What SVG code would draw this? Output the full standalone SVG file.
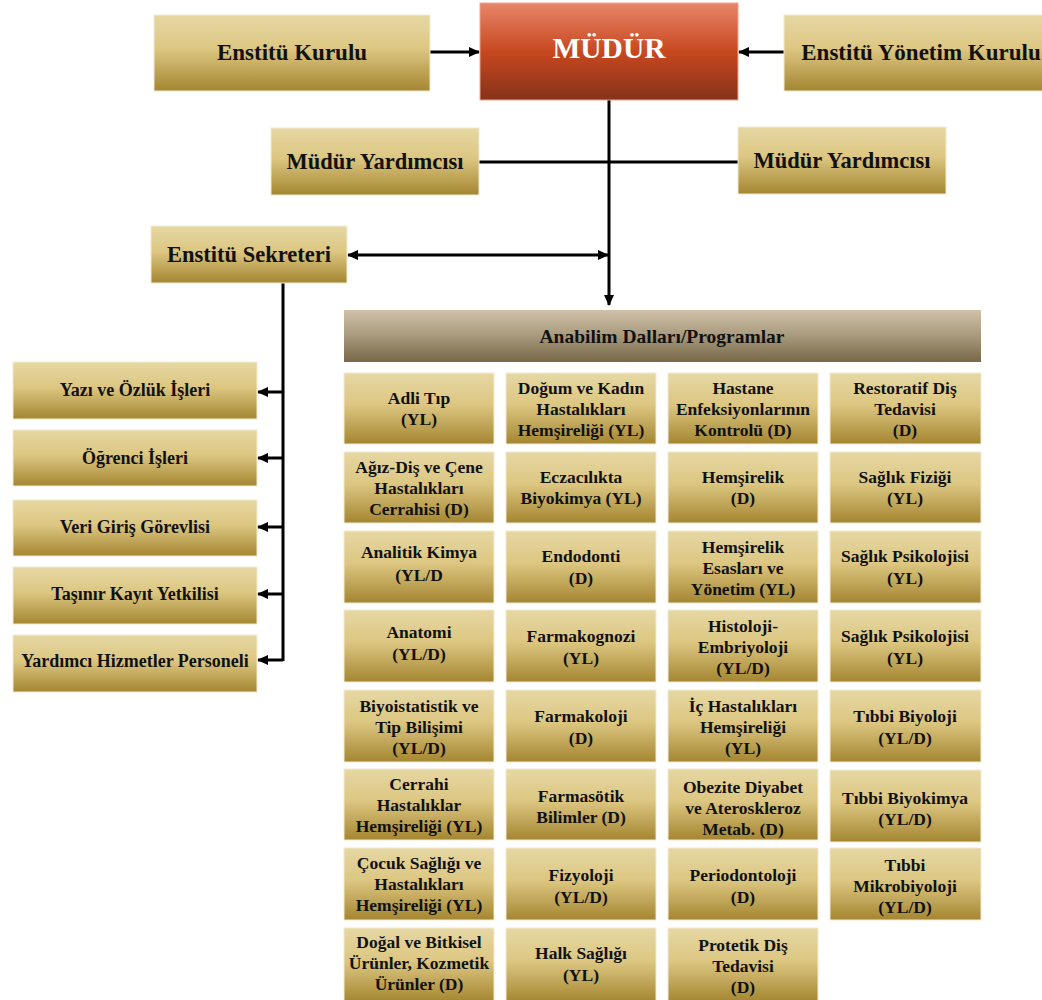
<svg xmlns="http://www.w3.org/2000/svg" width="1042" height="1000" viewBox="0 0 1042 1000">
<defs>
<linearGradient id="gold" x1="0" y1="0" x2="0" y2="1">
<stop offset="0" stop-color="#e6d8a4"/>
<stop offset="0.45" stop-color="#dcc681"/>
<stop offset="1" stop-color="#a48631"/>
</linearGradient>
<linearGradient id="red" x1="0" y1="0" x2="0" y2="1">
<stop offset="0" stop-color="#e8866a"/>
<stop offset="0.5" stop-color="#c7481f"/>
<stop offset="1" stop-color="#86321a"/>
</linearGradient>
<linearGradient id="hdr" x1="0" y1="0" x2="0" y2="1">
<stop offset="0" stop-color="#cfc2a9"/>
<stop offset="0.5" stop-color="#a8997c"/>
<stop offset="1" stop-color="#786748"/>
</linearGradient>
<marker id="ah" markerUnits="userSpaceOnUse" markerWidth="11" markerHeight="10" refX="10" refY="5" orient="auto-start-reverse">
<path d="M0,0 L11,5 L0,10 z" fill="#000"/>
</marker>
</defs>
<style>
.g{fill:url(#gold);stroke:#f3ead0;stroke-width:1}
.r{fill:url(#red);stroke:#e9a58f;stroke-width:1}
.h{fill:url(#hdr)}
text{font-family:"Liberation Serif","Times New Roman",serif;font-weight:bold;fill:#111;text-anchor:middle}
.t1{font-size:23px}
.t2{font-size:22.5px}
.t3{font-size:18px}
.hd{font-size:19.5px}
.c{font-size:17.5px}
.w{fill:#fff;font-size:29.5px}
.ln{stroke:#000;stroke-width:3;fill:none}
</style>

<g id="connectors">
<line class="ln" x1="430" y1="52" x2="479" y2="52" marker-end="url(#ah)"/>
<line class="ln" x1="784" y1="52" x2="739" y2="52" marker-end="url(#ah)"/>
<line class="ln" x1="479" y1="162" x2="738" y2="162"/>
<line class="ln" x1="609" y1="100" x2="609" y2="305" marker-end="url(#ah)"/>
<line class="ln" x1="348" y1="255" x2="608" y2="255" marker-start="url(#ah)" marker-end="url(#ah)"/>
<line class="ln" x1="283" y1="283" x2="283" y2="661"/>
<line class="ln" x1="283" y1="392" x2="258" y2="392" marker-end="url(#ah)"/>
<line class="ln" x1="283" y1="458" x2="258" y2="458" marker-end="url(#ah)"/>
<line class="ln" x1="283" y1="527" x2="258" y2="527" marker-end="url(#ah)"/>
<line class="ln" x1="283" y1="594" x2="258" y2="594" marker-end="url(#ah)"/>
<line class="ln" x1="283" y1="660" x2="258" y2="660" marker-end="url(#ah)"/>
</g>

<g id="enstitu-kurulu"><rect class="g" x="154" y="15" width="276" height="76"/><text class="t1" x="292" y="60">Enstitü Kurulu</text></g>
<g id="mudur"><rect class="r" x="480" y="3" width="258" height="97"/><text class="w" x="609" y="58">MÜDÜR</text></g>
<g id="enstitu-yonetim-kurulu"><rect class="g" x="784" y="15" width="262" height="76"/><text class="t1" x="921" y="60">Enstitü Yönetim Kurulu</text></g>
<g id="mudur-yrd-1"><rect class="g" x="271" y="128" width="208" height="67"/><text class="t2" x="375" y="169">Müdür Yardımcısı</text></g>
<g id="mudur-yrd-2"><rect class="g" x="738" y="127" width="208" height="67"/><text class="t2" x="842" y="168">Müdür Yardımcısı</text></g>
<g id="enstitu-sekreteri"><rect class="g" x="151" y="226" width="196" height="57"/><text class="t2" x="249" y="262">Enstitü Sekreteri</text></g>

<g id="yazi-ozluk"><rect class="g" x="13" y="362" width="244" height="57"/><text class="t3" x="135" y="396">Yazı ve Özlük İşleri</text></g>
<g id="ogrenci"><rect class="g" x="13" y="430" width="244" height="56"/><text class="t3" x="135" y="464">Öğrenci İşleri</text></g>
<g id="veri-giris"><rect class="g" x="13" y="500" width="244" height="56"/><text class="t3" x="135" y="533">Veri Giriş Görevlisi</text></g>
<g id="tasinir"><rect class="g" x="13" y="567" width="244" height="57"/><text class="t3" x="135" y="600">Taşınır Kayıt Yetkilisi</text></g>
<g id="yardimci"><rect class="g" x="13" y="635" width="244" height="57"/><text class="t3" x="135" y="667">Yardımcı Hizmetler Personeli</text></g>

<g id="anabilim"><rect class="h" x="344" y="310" width="637" height="52"/><text class="hd" x="662" y="343">Anabilim Dalları/Programlar</text></g>

<g id="r1c1"><rect class="g" x="344" y="373" width="150" height="71"/><text class="c" x="419" y="404">Adli Tıp</text><text class="c" x="419" y="425">(YL)</text></g>
<g id="r1c2"><rect class="g" x="506" y="373" width="150" height="71"/><text class="c" x="581" y="394">Doğum ve Kadın</text><text class="c" x="581" y="415">Hastalıkları</text><text class="c" x="581" y="436">Hemşireliği (YL)</text></g>
<g id="r1c3"><rect class="g" x="668" y="373" width="150" height="71"/><text class="c" x="743" y="394">Hastane</text><text class="c" x="743" y="415">Enfeksiyonlarının</text><text class="c" x="743" y="436">Kontrolü (D)</text></g>
<g id="r1c4"><rect class="g" x="830" y="373" width="151" height="71"/><text class="c" x="905" y="394">Restoratif Diş</text><text class="c" x="905" y="415">Tedavisi</text><text class="c" x="905" y="436">(D)</text></g>

<g id="r2c1"><rect class="g" x="344" y="452" width="150" height="71"/><text class="c" x="419" y="473">Ağız-Diş ve Çene</text><text class="c" x="419" y="494">Hastalıkları</text><text class="c" x="419" y="515">Cerrahisi (D)</text></g>
<g id="r2c2"><rect class="g" x="506" y="452" width="150" height="71"/><text class="c" x="581" y="483">Eczacılıkta</text><text class="c" x="581" y="504">Biyokimya (YL)</text></g>
<g id="r2c3"><rect class="g" x="668" y="452" width="150" height="71"/><text class="c" x="743" y="483">Hemşirelik</text><text class="c" x="743" y="504">(D)</text></g>
<g id="r2c4"><rect class="g" x="830" y="452" width="151" height="71"/><text class="c" x="905" y="483">Sağlık Fiziği</text><text class="c" x="905" y="504">(YL)</text></g>

<g id="r3c1"><rect class="g" x="344" y="531" width="150" height="72"/><text class="c" x="419" y="558">Analitik Kimya</text><text class="c" x="419" y="581">(YL/D</text></g>
<g id="r3c2"><rect class="g" x="506" y="531" width="150" height="72"/><text class="c" x="581" y="562">Endodonti</text><text class="c" x="581" y="584">(D)</text></g>
<g id="r3c3"><rect class="g" x="668" y="531" width="150" height="72"/><text class="c" x="743" y="553">Hemşirelik</text><text class="c" x="743" y="574">Esasları ve</text><text class="c" x="743" y="595">Yönetim (YL)</text></g>
<g id="r3c4"><rect class="g" x="830" y="531" width="151" height="72"/><text class="c" x="905" y="562">Sağlık Psikolojisi</text><text class="c" x="905" y="584">(YL)</text></g>

<g id="r4c1"><rect class="g" x="344" y="610" width="150" height="72"/><text class="c" x="419" y="638">Anatomi</text><text class="c" x="419" y="660">(YL/D)</text></g>
<g id="r4c2"><rect class="g" x="506" y="610" width="150" height="72"/><text class="c" x="581" y="642">Farmakognozi</text><text class="c" x="581" y="664">(YL)</text></g>
<g id="r4c3"><rect class="g" x="668" y="610" width="150" height="72"/><text class="c" x="743" y="632">Histoloji-</text><text class="c" x="743" y="653">Embriyoloji</text><text class="c" x="743" y="674">(YL/D)</text></g>
<g id="r4c4"><rect class="g" x="830" y="610" width="151" height="72"/><text class="c" x="905" y="642">Sağlık Psikolojisi</text><text class="c" x="905" y="664">(YL)</text></g>

<g id="r5c1"><rect class="g" x="344" y="690" width="150" height="72"/><text class="c" x="419" y="712">Biyoistatistik ve</text><text class="c" x="419" y="733">Tip Bilişimi</text><text class="c" x="419" y="754">(YL/D)</text></g>
<g id="r5c2"><rect class="g" x="506" y="690" width="150" height="72"/><text class="c" x="581" y="722">Farmakoloji</text><text class="c" x="581" y="744">(D)</text></g>
<g id="r5c3"><rect class="g" x="668" y="690" width="150" height="72"/><text class="c" x="743" y="712">İç Hastalıkları</text><text class="c" x="743" y="733">Hemşireliği</text><text class="c" x="743" y="754">(YL)</text></g>
<g id="r5c4"><rect class="g" x="830" y="690" width="151" height="72"/><text class="c" x="905" y="722">Tıbbi Biyoloji</text><text class="c" x="905" y="744">(YL/D)</text></g>

<g id="r6c1"><rect class="g" x="344" y="769" width="150" height="71"/><text class="c" x="419" y="790">Cerrahi</text><text class="c" x="419" y="811">Hastalıklar</text><text class="c" x="419" y="832">Hemşireliği (YL)</text></g>
<g id="r6c2"><rect class="g" x="506" y="769" width="150" height="71"/><text class="c" x="581" y="802">Farmasötik</text><text class="c" x="581" y="823">Bilimler (D)</text></g>
<g id="r6c3"><rect class="g" x="668" y="769" width="150" height="71"/><text class="c" x="743" y="793">Obezite Diyabet</text><text class="c" x="743" y="814">ve Ateroskleroz</text><text class="c" x="743" y="835">Metab. (D)</text></g>
<g id="r6c4"><rect class="g" x="830" y="770" width="151" height="72"/><text class="c" x="905" y="804">Tıbbi Biyokimya</text><text class="c" x="905" y="825">(YL/D)</text></g>

<g id="r7c1"><rect class="g" x="344" y="848" width="150" height="72"/><text class="c" x="419" y="869">Çocuk Sağlığı ve</text><text class="c" x="419" y="890">Hastalıkları</text><text class="c" x="419" y="911">Hemşireliği (YL)</text></g>
<g id="r7c2"><rect class="g" x="506" y="848" width="150" height="72"/><text class="c" x="581" y="881">Fizyoloji</text><text class="c" x="581" y="903">(YL/D)</text></g>
<g id="r7c3"><rect class="g" x="668" y="848" width="150" height="72"/><text class="c" x="743" y="881">Periodontoloji</text><text class="c" x="743" y="903">(D)</text></g>
<g id="r7c4"><rect class="g" x="830" y="848" width="151" height="72"/><text class="c" x="905" y="871">Tıbbi</text><text class="c" x="905" y="892">Mikrobiyoloji</text><text class="c" x="905" y="913">(YL/D)</text></g>

<g id="r8c1"><rect class="g" x="344" y="928" width="150" height="74"/><text class="c" x="419" y="948">Doğal ve Bitkisel</text><text class="c" x="419" y="969">Ürünler, Kozmetik</text><text class="c" x="419" y="990">Ürünler (D)</text></g>
<g id="r8c2"><rect class="g" x="506" y="928" width="150" height="74"/><text class="c" x="581" y="959">Halk Sağlığı</text><text class="c" x="581" y="981">(YL)</text></g>
<g id="r8c3"><rect class="g" x="668" y="928" width="150" height="74"/><text class="c" x="743" y="951">Protetik Diş</text><text class="c" x="743" y="972">Tedavisi</text><text class="c" x="743" y="993">(D)</text></g>
</svg>
